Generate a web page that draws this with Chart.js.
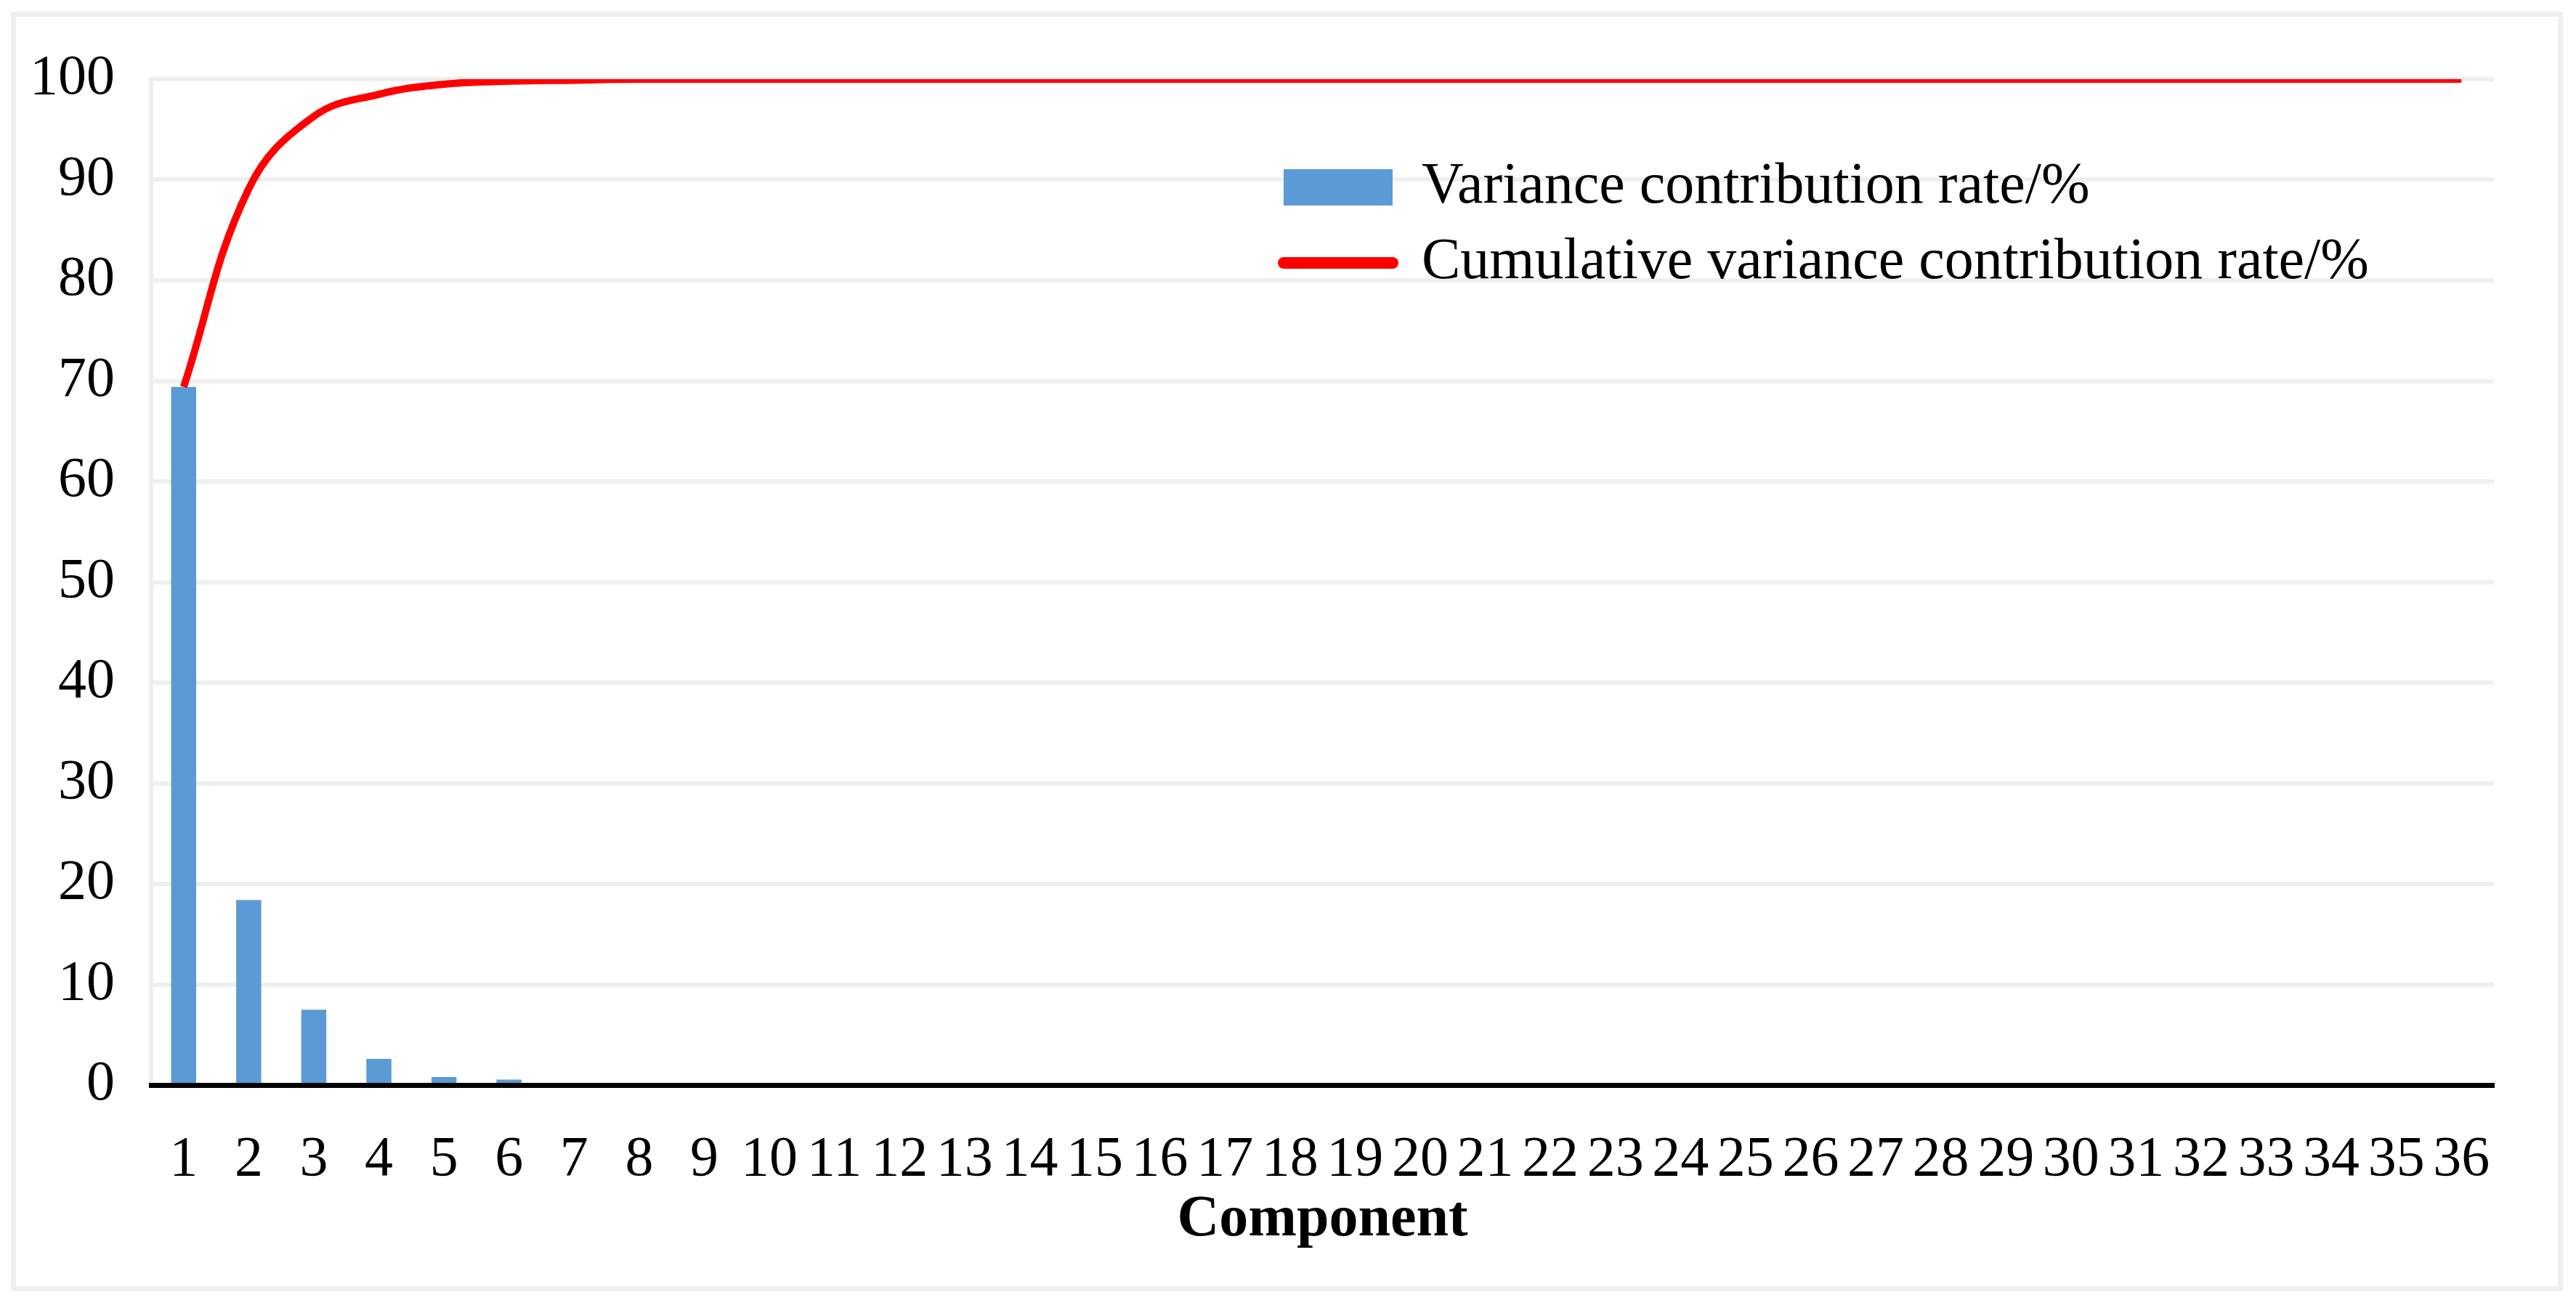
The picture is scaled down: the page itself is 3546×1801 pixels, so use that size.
<!DOCTYPE html>
<html>
<head>
<meta charset="utf-8">
<title>Variance contribution rate</title>
<script src="https://cdn.jsdelivr.net/npm/chart.js@4.4.1/dist/chart.umd.min.js"></script>
<style>
  html, body { margin: 0; padding: 0; background: #fff; }
  #wrap { position: relative; width: 3546px; height: 1801px; }
  #frame {
    position: absolute; left: 15px; top: 16px; width: 3513px; height: 1762px;
    box-sizing: border-box; border: 7px solid #f0f0f0;
  }
  canvas { position: absolute; left: 0; top: 0; }
</style>
</head>
<body>
<div id="wrap">
  <div id="frame"></div>
  <canvas id="chart" width="3546" height="1801"></canvas>
</div>
<script>
// component numbers (x tick labels)
const components = [
  '1', '2', '3', '4', '5', '6', '7', '8', '9', '10', '11', '12',
  '13', '14', '15', '16', '17', '18', '19', '20', '21', '22', '23', '24',
  '25', '26', '27', '28', '29', '30', '31', '32', '33', '34', '35', '36'
];

// variance contribution rate, % (bars)
const varianceRate = [
  69.4, 18.4, 7.5, 2.6, 0.8, 0.55, 0.1, 0.1, 0.1, 0.05, 0.05, 0.05,
  0.04, 0.04, 0.03, 0.03, 0.03, 0.02, 0.02, 0.02, 0.02, 0.01, 0.01, 0.01,
  0.01, 0.01, 0.01, 0.01, 0, 0, 0, 0, 0, 0, 0, 0
];

// cumulative variance contribution rate, % (red line)
const cumulativeRate = [
  69.4, 89.1, 96.3, 98.5, 99.5, 99.8, 99.9, 100, 100, 100, 100, 100,
  100, 100, 100, 100, 100, 100, 100, 100, 100, 100, 100, 100,
  100, 100, 100, 100, 100, 100, 100, 100, 100, 100, 100, 100
];

const seriesNames = ['Variance contribution rate/%', 'Cumulative variance contribution rate/%'];

Chart.defaults.font.family = "'Liberation Serif', 'Times New Roman', serif";
Chart.defaults.color = '#000';

// legend sits inside the plot, top right
const legendPlacer = {
  id: 'legendPlacer',
  afterLayout(chart) {
    const lg = chart.legend;
    lg.left = chart.chartArea.left + 1535;
    lg.right = lg.left + lg.width;
    lg.top = 194;
    lg.bottom = lg.top + 500;
  }
};

new Chart(document.getElementById('chart'), {
  data: {
    labels: components,
    datasets: [
      {
        type: 'bar',
        label: seriesNames[0],
        data: varianceRate,
        backgroundColor: '#5b9bd5',
        borderWidth: 0,
        barPercentage: 0.385,
        categoryPercentage: 1,
        pointStyle: 'rect',
        order: 2
      },
      {
        type: 'line',
        label: seriesNames[1],
        data: cumulativeRate,
        borderColor: '#ff0000',
        backgroundColor: '#ff0000',
        borderWidth: 10,
        pointRadius: 0,
        pointStyle: 'line',
        tension: 0.4,
        order: 1
      }
    ]
  },
  options: {
    responsive: false,
    animation: false,
    devicePixelRatio: 1,
    layout: { padding: { left: 0, right: 113, top: 109, bottom: 0 } },
    plugins: {
      tooltip: { enabled: false },
      legend: {
        position: 'chartArea',
        align: 'start',
        labels: {
          usePointStyle: true,
          pointStyleWidth: 150,
          boxHeight: 50,
          padding: 24,
          color: '#000',
          font: { size: 80 },
          sort: (a, b) => a.datasetIndex - b.datasetIndex,
          generateLabels(chart) {
            const items = Chart.defaults.plugins.legend.labels.generateLabels(chart);
            items.forEach((item) => {
              if (item.datasetIndex === 1) {
                item.pointStyle = 'line';
                item.strokeStyle = '#ff0000';
                item.lineWidth = 16;
                item.lineCap = 'round';
              } else {
                item.pointStyle = 'rect';
                item.fillStyle = '#5b9bd5';
                item.lineWidth = 0;
              }
            });
            return items;
          }
        }
      }
    },
    scales: {
      x: {
        grid: { display: false },
        border: { display: true, color: '#000', width: 7, z: 1 },
        ticks: { color: '#000', font: { size: 78 }, padding: 49, autoSkip: false, maxRotation: 0 },
        title: {
          display: true,
          text: 'Component',
          color: '#000',
          font: { size: 80, weight: 'bold' },
          padding: { top: 0, bottom: 73 }
        },
        afterFit(scale) { scale.height = 307; }
      },
      y: {
        min: 0,
        max: 100,
        ticks: { stepSize: 10, color: '#000', font: { size: 78 }, padding: 50 },
        grid: { color: '#efefef', lineWidth: 6, drawTicks: false },
        border: { color: '#efefef', width: 6 },
        afterFit(scale) { scale.width = 208; }
      }
    }
  },
  plugins: [legendPlacer]
});
</script>
</body>
</html>
